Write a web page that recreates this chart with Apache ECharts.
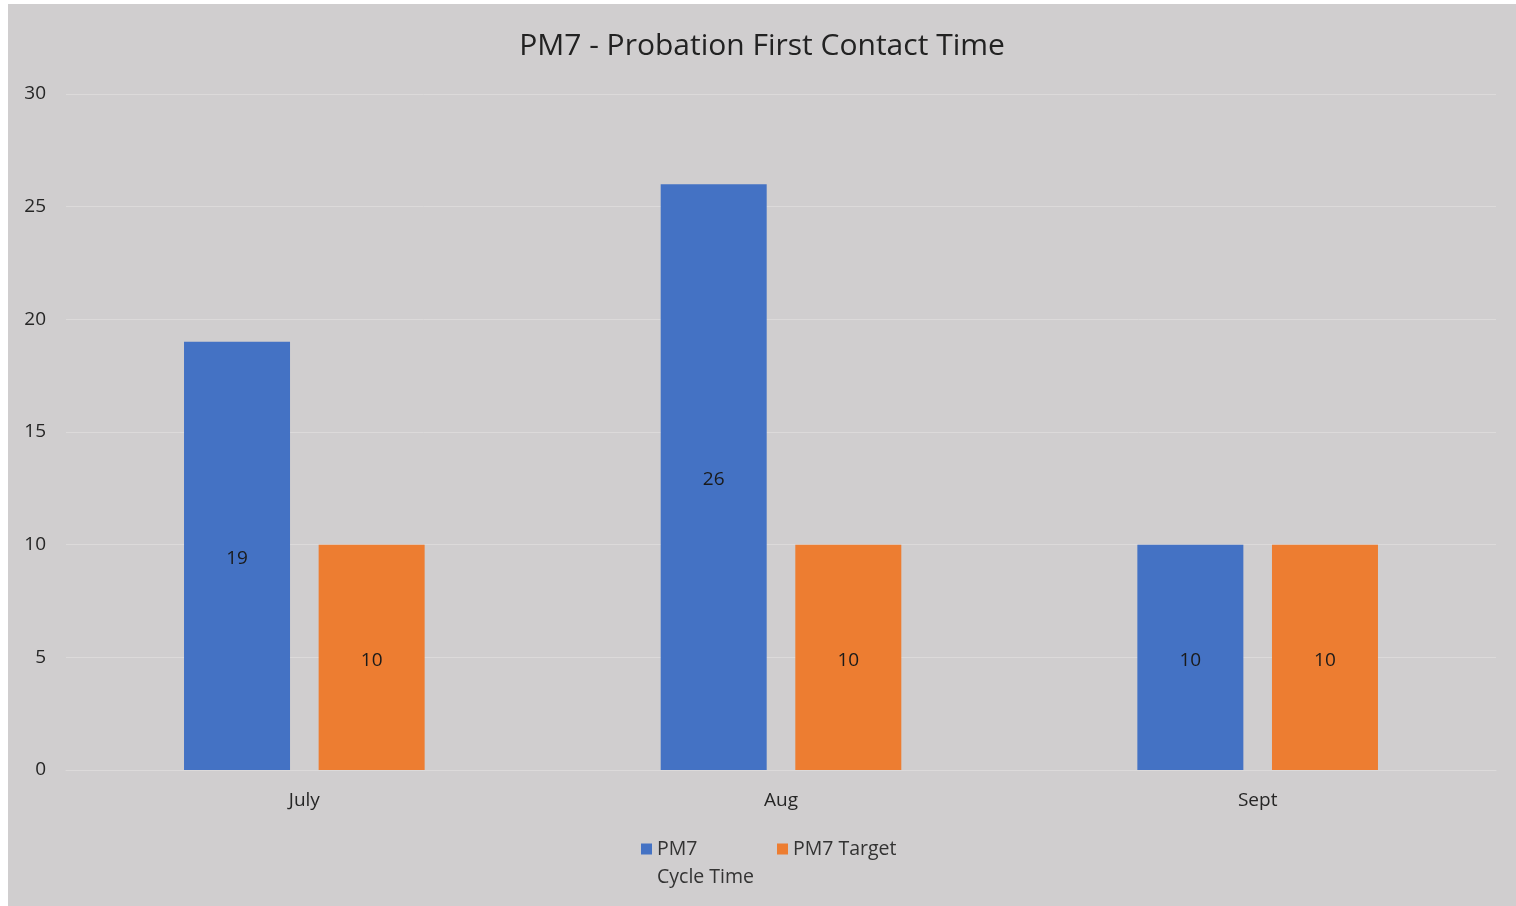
<!DOCTYPE html>
<html>
<head>
<meta charset="utf-8">
<script src="https://cdn.jsdelivr.net/npm/echarts@6/dist/echarts.min.js"></script>
<style>
  html, body { margin: 0; padding: 0; background: #fff; }
  #chart { position: absolute; left: 8px; top: 4px; width: 1508px; height: 902px; }
</style>
</head>
<body>
<div id="chart"></div>
<script>
const months = ['July', 'Aug', 'Sept']
const cycleTime = [19, 26, 10]
const target = [10, 10, 10]
const yTicks = { min: 0, max: 30, interval: 5 }

const font = "'Open Sans', 'Liberation Sans', sans-serif"
const chart = echarts.init(document.getElementById('chart'))

const legendText = {
  fontFamily: font,
  fontSize: 19.5,
  color: '#333',
  lineHeight: 28,
}

// square sitting at the top of a taller box, so it lines up with the first text line
const topSquare = 'path://M0,0h11v11h-11z M0,39L0.01,39'

chart.setOption({
  backgroundColor: '#d0cecf',
  animation: false,
  title: {
    text: 'PM7 - Probation First Contact Time',
    left: 'center',
    top: 22,
    textStyle: { fontFamily: font, fontSize: 30, fontWeight: 'normal', color: '#222' },
  },
  legend: [
    {
      data: ['PM7 Cycle Time'],
      left: 628,
      top: 826,
      itemWidth: 11,
      itemHeight: 39,
      icon: topSquare,
      formatter: () => 'PM7\nCycle Time',
      textStyle: legendText,
    },
    {
      data: ['PM7 Target'],
      left: 764,
      top: 826,
      itemWidth: 11,
      itemHeight: 11,
      icon: 'rect',
      textStyle: legendText,
    },
  ],
  grid: { left: 58, right: 20, top: 90, bottom: 136 },
  xAxis: {
    type: 'category',
    data: months,
    axisLine: { lineStyle: { color: '#dcdada', width: 1 } },
    axisTick: { show: false },
    axisLabel: { fontFamily: font, fontSize: 19, color: '#262626', margin: 21 },
  },
  yAxis: {
    type: 'value',
    min: yTicks.min,
    max: yTicks.max,
    interval: yTicks.interval,
    axisLine: { show: false },
    axisTick: { show: false },
    splitLine: { lineStyle: { color: '#dcdada', width: 1 } },
    axisLabel: { fontFamily: font, fontSize: 19, color: '#262626', margin: 20 },
  },
  series: [
    {
      name: 'PM7 Cycle Time',
      type: 'bar',
      data: cycleTime,
      barWidth: 106,
      barGap: '27%',
      itemStyle: { color: '#4472c4' },
      label: { show: true, position: 'inside', offset: [0, 3], fontFamily: font, fontSize: 19, color: '#1a1a1a' },
    },
    {
      name: 'PM7 Target',
      type: 'bar',
      data: target,
      barWidth: 106,
      itemStyle: { color: '#ed7d31' },
      label: { show: true, position: 'inside', offset: [0, 3], fontFamily: font, fontSize: 19, color: '#1a1a1a' },
    },
  ],
})
</script>
</body>
</html>
